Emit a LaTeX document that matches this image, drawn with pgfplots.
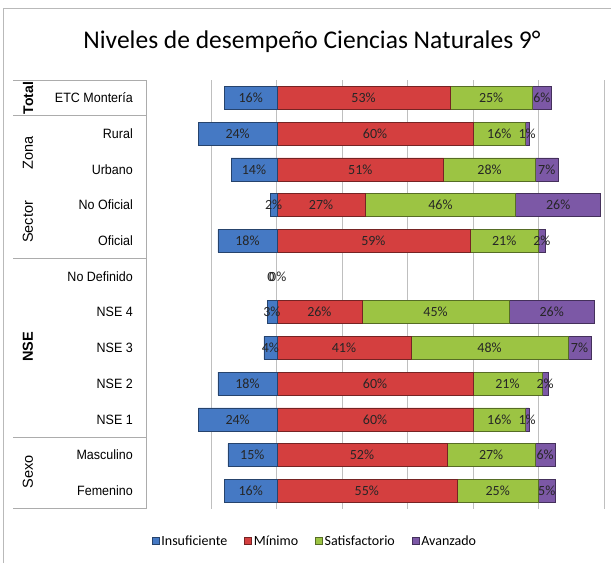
\documentclass[border=0pt]{standalone}
\usepackage{pgfplots}
\pgfplotsset{compat=1.18}
\usepackage{fontspec}
\setmainfont{Carlito}
\newfontfamily\arialf{Liberation Sans}
\definecolor{cI}{HTML}{4579C4}
\definecolor{cM}{HTML}{D43F3F}
\definecolor{cS}{HTML}{9CC443}
\definecolor{cA}{HTML}{7C58A6}
\definecolor{gridc}{HTML}{BFBFBF}
\tikzset{
  barI/.style={fill=cI, draw=cI!55!black, line width=0.5pt},
  barM/.style={fill=cM, draw=cM!55!black, line width=0.5pt},
  barS/.style={fill=cS, draw=cS!55!black, line width=0.5pt},
  barA/.style={fill=cA, draw=cA!55!black, line width=0.5pt},
}
\begin{document}
\begin{tikzpicture}
\useasboundingbox (0pt,0pt) rectangle (611pt,563pt);
\draw[gray!55, line width=0.9pt] (3pt,0pt) -- (3pt,555pt) -- (611pt,555pt);
\node[anchor=base, inner sep=0pt, font=\fontsize{25.5}{30}\selectfont] at (312pt,514pt) {Niveles de desempeño Ciencias Naturales 9°};
\begin{axis}[
  at={(146pt,54.3pt)}, anchor=south west, scale only axis,
  width=458pt, height=428.7pt,
  xbar stacked, bar width=23pt,
  xmin=-40, xmax=100, ymin=-0.5, ymax=11.5,
  xtick={-20,0,20,40,60,80,100}, xticklabels={},
  xmajorgrids, grid style={gridc, line width=0.8pt},
  ytick={0,1,2,3,4,5,6,7,8,9,10,11},
  yticklabels={Femenino,Masculino,NSE 1,NSE 2,NSE 3,NSE 4,No Definido,Oficial,No Oficial,Urbano,Rural,ETC Montería},
  major tick length=0pt,
  axis line style={draw=none},
  yticklabel style={font=\arialf\fontsize{12.5}{14}\selectfont, anchor=east, inner sep=0pt, xshift=-13pt, yscale=1.08},
  clip=false,
]
\addplot[barI] coordinates {(-16,11) (-24,10) (-14,9) (-2,8) (-18,7) (0,6) (-3,5) (-4,4) (-18,3) (-24,2) (-15,1) (-16,0)};
\addplot[barM] coordinates {(53,11) (60,10) (51,9) (27,8) (59,7) (0,6) (26,5) (41,4) (60,3) (60,2) (52,1) (55,0)};
\addplot[barS] coordinates {(25,11) (16,10) (28,9) (46,8) (21,7) (0,6) (45,5) (48,4) (21,3) (16,2) (27,1) (25,0)};
\addplot[barA] coordinates {(6,11) (1,10) (7,9) (26,8) (2,7) (0,6) (26,5) (7,4) (2,3) (1,2) (6,1) (5,0)};
\end{axis}
\begin{axis}[
  at={(146pt,54.3pt)}, anchor=south west, scale only axis,
  width=458pt, height=428.7pt,
  xmin=-40, xmax=100, ymin=-0.5, ymax=11.5,
  hide axis, clip=false,
  legend columns=4,
  legend style={at={(0.369,-0.0753)}, anchor=center, draw=none, fill=none,
    font=\fontsize{14}{16}\selectfont,
    /tikz/every even column/.append style={column sep=15pt}},
  legend image code/.code={\draw[#1] (0pt,-3.5pt) rectangle (7pt,3.5pt);},
]
\addlegendimage{barI}\addlegendentry{Insuficiente}
\addlegendimage{barM}\addlegendentry{Mínimo}
\addlegendimage{barS}\addlegendentry{Satisfactorio}
\addlegendimage{barA}\addlegendentry{Avanzado}
\addplot[forget plot, xbar, bar width=0pt, bar shift=0pt, draw=none, fill=none,
  point meta=explicit symbolic,
  nodes near coords={\pgfplotspointmeta\%},
  every node near coord/.append style={anchor=center, inner sep=0pt, text=black!85, font=\fontsize{14}{16}\selectfont}]
coordinates {
(-8,11) [16] (26.5,11) [53] (65.5,11) [25] (81,11) [6]
(-12,10) [24] (30,10) [60] (68,10) [16] (76.5,10) [1]
(-7,9) [14] (25.5,9) [51] (65,9) [28] (82.5,9) [7]
(-1,8) [2] (13.5,8) [27] (50,8) [46] (86,8) [26]
(-9,7) [18] (29.5,7) [59] (69.5,7) [21] (81,7) [2]
(0,6) [0\kern-0.38em0]
(-1.5,5) [3] (13,5) [26] (48.5,5) [45] (84,5) [26]
(-2,4) [4] (20.5,4) [41] (65,4) [48] (92.5,4) [7]
(-9,3) [18] (30,3) [60] (70.5,3) [21] (82,3) [2]
(-12,2) [24] (30,2) [60] (68,2) [16] (76.5,2) [1]
(-7.5,1) [15] (26,1) [52] (65.5,1) [27] (82,1) [6]
(-8,0) [16] (27.5,0) [55] (67.5,0) [25] (82.5,0) [5]
};
\end{axis}
\draw[gray!65, line width=0.8pt] (13pt,483pt) -- (146pt,483pt);
\draw[gray!65, line width=0.8pt] (13pt,447.3pt) -- (146pt,447.3pt);
\draw[gray!65, line width=0.8pt] (13pt,304.4pt) -- (146pt,304.4pt);
\draw[gray!65, line width=0.8pt] (13pt,125.75pt) -- (146pt,125.75pt);
\draw[gray!65, line width=0.8pt] (13pt,54.3pt) -- (146pt,54.3pt);
\draw[gray!65, line width=0.8pt] (146pt,54.3pt) -- (146pt,483pt);
\node[rotate=90, font=\arialf\bfseries\fontsize{14}{16}\selectfont] at (28pt,465pt) {Total};
\node[rotate=90, font=\arialf\fontsize{14.5}{16}\selectfont] at (28pt,410pt) {Zona};
\node[rotate=90, font=\arialf\fontsize{14.5}{16}\selectfont] at (28pt,341pt) {Sector};
\node[rotate=90, font=\arialf\bfseries\fontsize{14.5}{16}\selectfont] at (28pt,216pt) {NSE};
\node[rotate=90, font=\arialf\fontsize{14.5}{16}\selectfont] at (28pt,91pt) {Sexo};
\end{tikzpicture}
\end{document}
